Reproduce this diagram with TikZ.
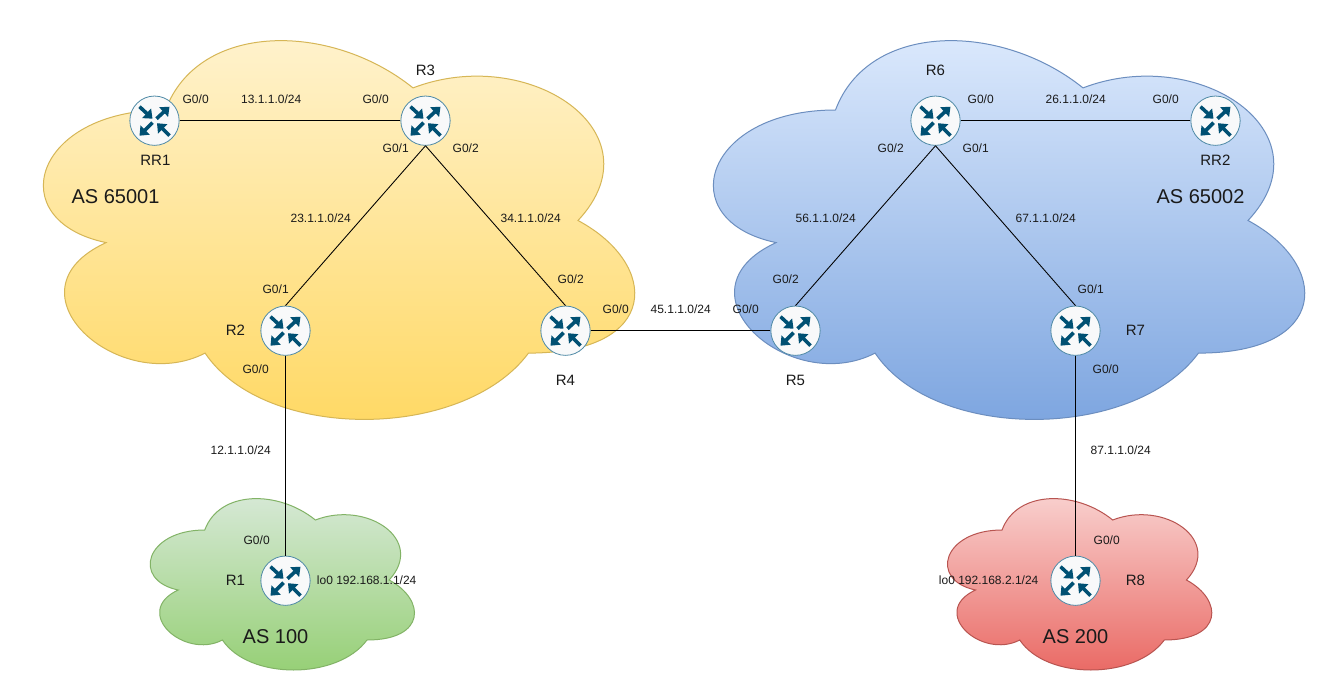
\documentclass[tikz,border=0pt]{standalone}
\usepackage{fontspec}
\setmainfont{Liberation Sans}
\usetikzlibrary{arrows.meta}
\definecolor{ytop}{HTML}{FFF2CC}\definecolor{ybot}{HTML}{FFD966}\definecolor{yline}{HTML}{D6B656}
\definecolor{btop}{HTML}{DAE8FC}\definecolor{bbot}{HTML}{7EA6E0}\definecolor{bline}{HTML}{6C8EBF}
\definecolor{gtop}{HTML}{D5E8D4}\definecolor{gbot}{HTML}{97D077}\definecolor{gline}{HTML}{82B366}
\definecolor{rtop}{HTML}{F8CECC}\definecolor{rbot}{HTML}{EA6B66}\definecolor{rline}{HTML}{B85450}
\definecolor{rblue}{HTML}{005073}\definecolor{redge}{HTML}{4F8AA6}\definecolor{rfill}{HTML}{F8F9FA}
\definecolor{txt}{HTML}{1A1A1A}
\newcommand{\cloudpath}{(25,25) .. controls (5,25) and (0,50) .. (16,55)
  .. controls (0,66) and (18,90) .. (31,80)
  .. controls (40,100) and (70,100) .. (80,80)
  .. controls (100,80) and (100,60) .. (87.5,50)
  .. controls (100,30) and (80,10) .. (62.5,20)
  .. controls (50,5) and (30,5) .. (25,25) -- cycle}
% x0, y0, width/100, height/100 in px; colours top, bottom, line
\newcommand{\ascloud}[7]{%
  \begin{scope}[shift={(#1,#2)},x=#3*0.75pt,y=-#4*0.75pt]
    \begin{scope}
      \clip \cloudpath;
      \shade[top color=#5,bottom color=#6] (0,9) rectangle (100,95);
    \end{scope}
    \draw[#7,line width=0.75pt] \cloudpath;
  \end{scope}}
\tikzset{
  rarrow/.style={rblue,line width=2.7pt,-{Triangle[length=6pt,width=9.5pt]}},
  router/.style={circle,draw=redge,line width=0.6pt,fill=rfill,minimum size=37pt,inner sep=0pt,
    path picture={
      \begin{scope}[shift={(path picture bounding box.center)}]
        \draw[rarrow] (-15,-14) -- (-2,-2);
        \draw[rarrow] (2,-2) -- (15,-14);
        \draw[rarrow] (-2,2) -- (-15,15);
        \draw[rarrow] (15,15) -- (2.5,2.5);
      \end{scope}}},
  link/.style={black,line width=0.75pt},
  diag/.style={black,line width=0.65pt},
  small/.style={font=\fontsize{9pt}{10pt}\selectfont,text=txt,inner sep=0pt,text height=6.6pt,text depth=0.6pt,xshift=0.5pt},
  rname/.style={font=\fontsize{11.25pt}{13pt}\selectfont,text=txt,inner sep=0pt,text height=8.2pt,text depth=0pt,xshift=0.3pt},
  asname/.style={font=\fontsize{15pt}{17pt}\selectfont,text=txt,inner sep=0pt,text height=11pt,text depth=0pt,xshift=0.4pt}
}
\begin{document}
\begin{tikzpicture}[x=0.75pt,y=-0.75pt]
\fill[white] (0,0) rectangle (1331,681);
\useasboundingbox (0,0) rectangle (1331,681);
\ascloud{0.5}{-0.5}{6.6}{4.42}{ytop}{ybot}{yline}
\ascloud{670.5}{-0.5}{6.6}{4.42}{btop}{bbot}{bline}
\ascloud{131}{480}{2.95}{2}{gtop}{gbot}{gline}
\ascloud{928.3}{480}{2.95}{2}{rtop}{rbot}{rline}
% routers
\begin{scope}[shift={(-0.5,-0.3)}]
\node[router] (rr1) at (155,121) {};
\node[router] (r3) at (426,121) {};
\node[router] (r2) at (286,331) {};
\node[router] (r4) at (566,331) {};
\node[router] (r5) at (796,331) {};
\node[router] (r6) at (936,121) {};
\node[router] (r7) at (1076,331) {};
\node[router] (rr2) at (1216,121) {};
\node[router] (r1) at (286,581) {};
\node[router] (r8) at (1076,581) {};
\end{scope}
% links
\draw[link] (rr1.east) -- (r3.west);
\draw[diag] (r3.south) -- (r2.north);
\draw[diag] (r3.south) -- (r4.north);
\draw[link] (r2.south) -- (r1.north);
\draw[link] (r4.east) -- (r5.west);
\draw[diag] (r6.south) -- (r5.north);
\draw[diag] (r6.south) -- (r7.north);
\draw[link] (r6.east) -- (rr2.west);
\draw[link] (r7.south) -- (r8.north);
% router names
\node[rname] (nrr1) at (155,160) {RR1};
\node[rname] (nr3) at (425,70) {R3};
\node[rname] (nr2) at (235,330) {R2};
\node[rname] (nr4) at (565,380) {R4};
\node[rname] (nr5) at (795,380) {R5};
\node[rname] (nr6) at (935,70) {R6};
\node[rname] (nr7) at (1135,330) {R7};
\node[rname] (nrr2) at (1215,160) {RR2};
\node[rname] (nr1) at (235,580) {R1};
\node[rname] (nr8) at (1135,580) {R8};
% AS names
\node[asname] (as1) at (115,196) {AS 65001};
\node[asname] (as2) at (1200,196) {AS 65002};
\node[asname] (as3) at (275,636) {AS 100};
\node[asname] (as4) at (1075,636) {AS 200};
% networks
\node[small] (n13) at (270.5,99.5) {13.1.1.0/24};
\node[small] (n23) at (320,219) {23.1.1.0/24};
\node[small] (n34) at (530,219) {34.1.1.0/24};
\node[small] (n45) at (680,309) {45.1.1.0/24};
\node[small] (n56) at (825,219) {56.1.1.0/24};
\node[small] (n67) at (1045,219) {67.1.1.0/24};
\node[small] (n26) at (1075,99.5) {26.1.1.0/24};
\node[small] (n12) at (240,450) {12.1.1.0/24};
\node[small] (n87) at (1120,450) {87.1.1.0/24};
\node[small] (lo1) at (366,580) {lo0 192.168.1.1/24};
\node[small] (lo2) at (988,580) {lo0 192.168.2.1/24};
% interfaces
\node[small] (i1) at (195,99.5) {G0/0};
\node[small] (i2) at (375,99.5) {G0/0};
\node[small] (i3) at (395,149) {G0/1};
\node[small] (i4) at (465,149) {G0/2};
\node[small] (i5) at (275,289) {G0/1};
\node[small] (i6) at (570,279) {G0/2};
\node[small] (i7) at (615,309) {G0/0};
\node[small] (i8) at (255,369) {G0/0};
\node[small] (i9) at (745,309) {G0/0};
\node[small] (i10) at (785,279) {G0/2};
\node[small] (i11) at (980,99.5) {G0/0};
\node[small] (i12) at (1165,99.5) {G0/0};
\node[small] (i13) at (890,149) {G0/2};
\node[small] (i14) at (975,149) {G0/1};
\node[small] (i15) at (1090,289) {G0/1};
\node[small] (i16) at (1105,369) {G0/0};
\node[small] (i17) at (256,540) {G0/0};
\node[small] (i18) at (1106,540) {G0/0};
\end{tikzpicture}
\end{document}
